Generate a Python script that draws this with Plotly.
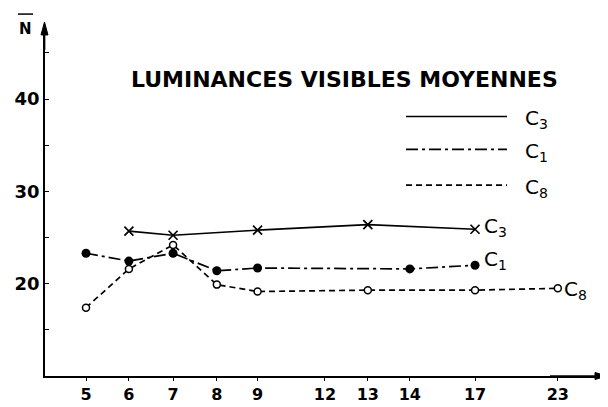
import plotly.graph_objects as go

# ---- data ----
tick_labels = ["5", "6", "7", "8", "9", "12", "13", "14", "17", "23"]
# position of each tick on the (non-uniform) drawn axis, in axis units
tick_positions = [0, 1, 2.03, 3.05, 4.0, 5.57, 6.57, 7.55, 9.07, 11.0]

c3_x = ["6", "7", "9", "13", "17"]
c3_y = [25.7, 25.25, 25.8, 26.4, 25.9]

c1_x = ["5", "6", "7", "8", "9", "14", "17"]
c1_y = [23.3, 22.45, 23.3, 21.4, 21.7, 21.6, 22.0]

c8_x = ["5", "6", "7", "8", "9", "13", "17", "23"]
c8_y = [17.4, 21.6, 24.2, 19.9, 19.15, 19.3, 19.3, 19.5]

y_major = [20, 30, 40]
y_minor = [15, 25, 35, 45]

pos = dict(zip(tick_labels, tick_positions))

FONT = "DejaVu Sans"
INK = "black"
DASHDOT = "12px,4px,3px,4px"
DASH = "6px,4px"

# page has a default 8px body margin; size the figure to fit the window
OFF = 8
W, H = 608 - OFF, 407 - OFF
# plot area in page pixels: x 45..605, y 28..378
L, R, T, B = 45 - OFF, 608 - 605, 28 - OFF, 407 - 378
pw, ph = W - L - R, H - T - B

def px(xp):  # page pixel -> paper fraction
    return (xp - OFF - L) / pw

def py(yp):
    return (H - B - (yp - OFF)) / ph

fig = go.Figure()

fig.add_trace(go.Scatter(
    x=[pos[v] for v in c3_x], y=c3_y, mode="lines+markers",
    line=dict(color=INK, width=1.7),
    marker=dict(symbol="x-thin", size=9, line=dict(color=INK, width=1.7)),
))
fig.add_trace(go.Scatter(
    x=[pos[v] for v in c1_x], y=c1_y, mode="lines+markers",
    line=dict(color=INK, width=1.7, dash=DASHDOT),
    marker=dict(symbol="circle", size=9, color=INK),
))
fig.add_trace(go.Scatter(
    x=[pos[v] for v in c8_x], y=c8_y, mode="lines+markers",
    line=dict(color=INK, width=1.7, dash=DASH),
    marker=dict(symbol="circle", size=7, color="white", line=dict(color=INK, width=1.5)),
))

# end labels
for xs, ys, name, xsh, ysh in [(c3_x, c3_y, "3", 7, 2), (c1_x, c1_y, "1", 7, 5), (c8_x, c8_y, "8", 4, -2)]:
    fig.add_annotation(
        x=pos[xs[-1]], y=ys[-1], xref="x", yref="y",
        text="C<sub>" + name + "</sub>", showarrow=False,
        xanchor="left", yanchor="middle", xshift=xsh, yshift=ysh,
        font=dict(family=FONT, size=20, color=INK),
    )

# title
fig.add_annotation(
    x=px(129), y=py(80), xref="paper", yref="paper",
    text="<b>LUMINANCES VISIBLES MOYENNES</b>", showarrow=False,
    xanchor="left", yanchor="middle",
    font=dict(family=FONT, size=22, color=INK),
)

# legend key
for yy, dash, name in [(117, "solid", "3"), (150, DASHDOT, "1"), (186, DASH, "8")]:
    fig.add_shape(type="line", xref="paper", yref="paper",
                  x0=px(406), x1=px(507), y0=py(yy), y1=py(yy),
                  line=dict(color=INK, width=1.7, dash=dash))
    fig.add_annotation(
        x=px(523), y=py(yy + 3), xref="paper", yref="paper",
        text="C<sub>" + name + "</sub>", showarrow=False,
        xanchor="left", yanchor="middle",
        font=dict(family=FONT, size=20, color=INK),
    )

# axis label N with overline
fig.add_annotation(
    x=px(25), y=py(29), xref="paper", yref="paper",
    text="<b>N</b>", showarrow=False, xanchor="center", yanchor="middle",
    font=dict(family=FONT, size=15, color=INK),
)
fig.add_shape(type="line", xref="paper", yref="paper",
              x0=px(18), x1=px(33), y0=py(14), y1=py(14),
              line=dict(color=INK, width=1.5))

# axis arrowheads as filled triangles
def tri(pts):
    return "M " + " L ".join("%f,%f" % (px(a), py(b)) for a, b in pts) + " Z"

fig.add_shape(type="path", xref="paper", yref="paper",
              path=tri([(44.5, 22), (41, 35), (48, 35)]),
              fillcolor=INK, line=dict(color=INK, width=1))
fig.add_shape(type="path", xref="paper", yref="paper",
              path=tri([(607, 378), (595, 374.5), (595, 381.5)]),
              fillcolor=INK, line=dict(color=INK, width=1))
fig.add_shape(type="line", xref="paper", yref="paper",
              x0=px(44.5), x1=px(44.5), y0=py(50), y1=py(30),
              line=dict(color=INK, width=1.7))
fig.add_shape(type="line", xref="paper", yref="paper",
              x0=px(550), x1=px(600), y0=py(378), y1=py(378),
              line=dict(color=INK, width=1.7))

fig.update_xaxes(
    range=[-0.956, 12.1], tickmode="array", tickvals=tick_positions,
    ticktext=["<b>%s</b>" % t for t in tick_labels],
    showline=True, linecolor=INK, linewidth=1.7, ticks="outside", ticklen=3, tickcolor=INK,
    showgrid=False, zeroline=False, tickfont=dict(family=FONT, size=16, color=INK),
)
fig.update_yaxes(
    range=[10, 47.7], tickmode="array", tickvals=y_major,
    ticktext=["<b>%d</b>" % t for t in y_major],
    showline=True, linecolor=INK, linewidth=1.7, ticks="inside", ticklen=4, tickcolor=INK,
    minor=dict(tickmode="array", tickvals=y_minor, ticks="inside", ticklen=4, tickcolor=INK, showgrid=False),
    showgrid=False, zeroline=False, tickfont=dict(family=FONT, size=18, color=INK),
)

fig.update_layout(
    width=W, height=H, margin=dict(l=L, r=R, t=T, b=B),
    plot_bgcolor="white", paper_bgcolor="white", showlegend=False,
)

fig.write_html("out.html")
